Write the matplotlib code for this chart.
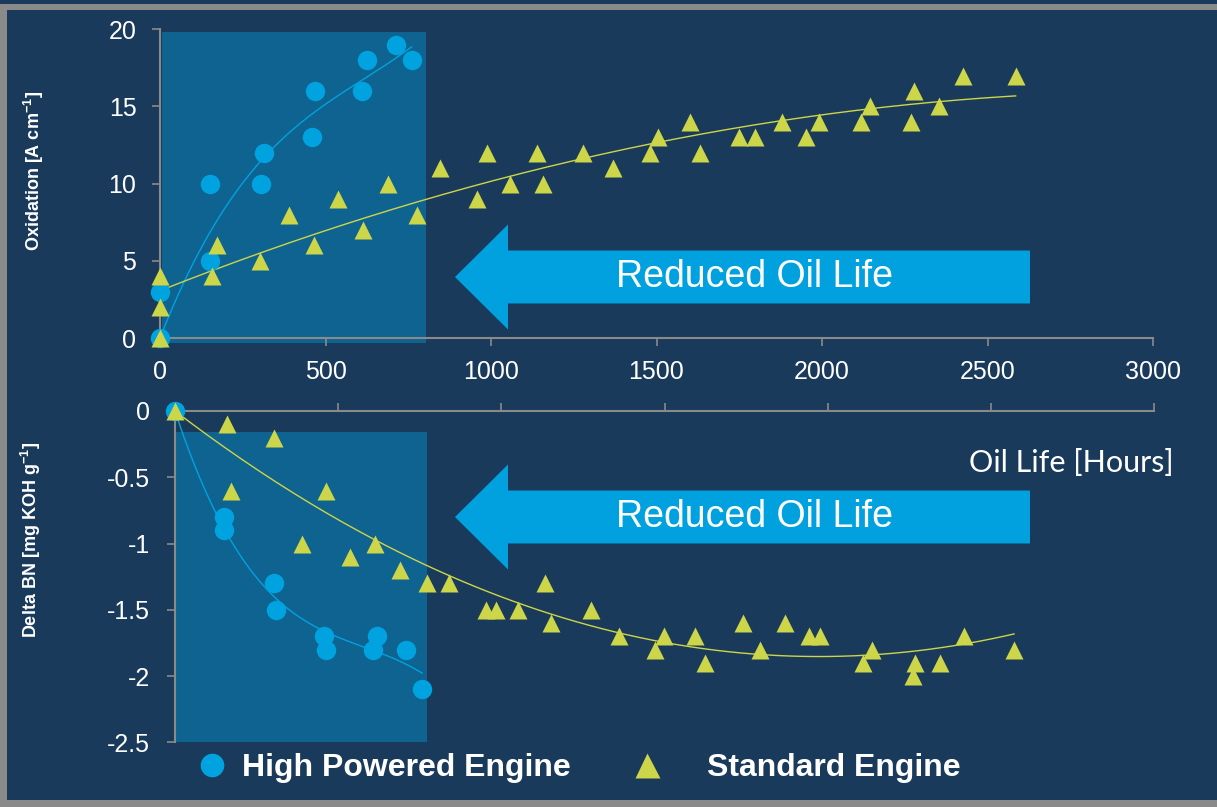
"""
Oxidation and Delta BN vs oil life, high powered vs standard engine
"""
import numpy as np
import matplotlib.pyplot as plt
from matplotlib.patches import Rectangle, FancyArrow
from matplotlib.lines import Line2D

# Oxidation data
hp_ox_x = [0, 0, 150, 150, 305, 313, 460, 467, 611, 624, 714, 760]
hp_ox_y = [0, 3, 10, 5, 10, 12, 13, 16, 16, 18, 19, 18]

std_ox_x = [0, 0, 0, 158, 173, 303, 390, 465, 538, 614, 690, 776, 846, 958, 988,
            1056, 1138, 1156, 1279, 1369, 1479, 1505, 1602, 1632, 1749, 1799, 1880,
            1952, 1990, 2118, 2144, 2270, 2279, 2354, 2427, 2585]
std_ox_y = [4, 2, 0, 4, 6, 5, 8, 6, 9, 7, 10, 8, 11, 9, 12,
            10, 12, 10, 12, 11, 12, 13, 14, 12, 13, 13, 14,
            13, 14, 14, 15, 14, 16, 15, 17, 17]

# Delta BN data
hp_bn_x = [0, 151, 151, 303, 309, 457, 462, 607, 620, 709, 757]
hp_bn_y = [0, -0.8, -0.9, -1.3, -1.5, -1.7, -1.8, -1.8, -1.7, -1.8, -2.1]

std_bn_x = [0, 158, 171, 303, 389, 462, 535, 613, 689, 773, 839, 953, 983, 1051,
            1133, 1151, 1274, 1362, 1471, 1497, 1594, 1625, 1740, 1792, 1870, 1942,
            1978, 2109, 2135, 2260, 2269, 2344, 2417, 2571]
std_bn_y = [0, -0.1, -0.6, -0.2, -1.0, -0.6, -1.1, -1.0, -1.2, -1.3, -1.3, -1.5, -1.5, -1.5,
            -1.3, -1.6, -1.5, -1.7, -1.8, -1.7, -1.7, -1.9, -1.6, -1.8, -1.6, -1.7,
            -1.7, -1.9, -1.8, -2.0, -1.9, -1.9, -1.7, -1.8]

x_ticks = [0, 500, 1000, 1500, 2000, 2500, 3000]
ox_ticks = [0, 5, 10, 15, 20]
bn_ticks = [0, -0.5, -1, -1.5, -2, -2.5]

bg = '#1a3a5c'
shade = '#0f6391'
blue = '#00a2df'
yellow = '#cdd548'
grey = '#8a8a8a'

plt.rcParams['font.family'] = ['Liberation Sans', 'DejaVu Sans']
plt.rcParams['mathtext.fontset'] = 'custom'
plt.rcParams['mathtext.bf'] = 'Liberation Sans:bold'
plt.rcParams['mathtext.rm'] = 'Liberation Sans'

W, H = 1217, 807
fig = plt.figure(figsize=(W / 100, H / 100), dpi=100, facecolor=bg)


def fx(px):
    return px / W


def fy(py):
    return 1 - py / H


# frame
for (x0, y0, x1, y1) in [(0, 4, 1217, 10), (0, 4, 7, 807), (0, 800, 1217, 807)]:
    fig.add_artist(Rectangle((fx(x0), fy(y1)), fx(x1) - fx(x0), fy(y0) - fy(y1),
                             transform=fig.transFigure, color=grey, lw=0, zorder=0))

ax1 = fig.add_axes([fx(160), fy(338), fx(1153) - fx(160), fy(29.3) - fy(338)])
ax2 = fig.add_axes([fx(175), fy(742.3), fx(1154) - fx(175), fy(411) - fy(742.3)])

for ax in (ax1, ax2):
    ax.set_facecolor('none')
    for s in ax.spines.values():
        s.set_color(grey)
        s.set_linewidth(1.5)
    ax.set_xlim(0, 3000)
    ax.set_xticks(x_ticks)
    ax.tick_params(colors=grey, labelcolor='white', labelsize=18, length=6, width=1.2)


def trend(ax, x, y, deg, color, zero=False):
    # polynomial trendline, optionally through the origin
    x = np.asarray(x, float)
    y = np.asarray(y, float)
    start = 1 if zero else 0
    A = np.column_stack([x ** p for p in range(start, deg + 1)])
    coef = np.linalg.lstsq(A, y, rcond=None)[0]
    xs = np.linspace(x.min(), x.max(), 200)
    ys = np.column_stack([xs ** p for p in range(start, deg + 1)]) @ coef
    ax.plot(xs, ys, color=color, lw=1.0, zorder=3, clip_on=False)


# top panel
ax1.spines['top'].set_visible(False)
ax1.spines['right'].set_visible(False)
ax1.set_ylim(0, 20)
ax1.set_yticks(ox_ticks)
ax1.tick_params(axis='x', pad=10)
ax1.tick_params(axis='y', pad=11)
ax1.add_patch(Rectangle((5, -0.35), 800, 20.2, color=shade, lw=0, zorder=1, clip_on=False))
trend(ax1, hp_ox_x, hp_ox_y, 3, blue, zero=True)
trend(ax1, std_ox_x, std_ox_y, 2, yellow)
ax1.plot(hp_ox_x, hp_ox_y, 'o', color=blue, ms=14, mec='none', zorder=4, clip_on=False)
ax1.plot(std_ox_x, std_ox_y, '^', color=yellow, ms=13, mec='none', zorder=5, clip_on=False)

# bottom panel
ax2.spines['bottom'].set_visible(False)
ax2.spines['right'].set_visible(False)
ax2.xaxis.set_ticks_position('top')
ax2.tick_params(axis='x', labeltop=False, labelbottom=False)
ax2.tick_params(axis='y', pad=12)
ax2.set_ylim(-2.5, 0)
ax2.set_yticks(bn_ticks)
ax2.set_yticklabels(['0', '-0.5', '-1', '-1.5', '-2', '-2.5'])
ax2.add_patch(Rectangle((2, -2.5), 769, 2.345, color=shade, lw=0, zorder=1, clip_on=False))
trend(ax2, hp_bn_x, hp_bn_y, 3, blue, zero=True)
trend(ax2, std_bn_x, std_bn_y, 2, yellow, zero=True)
ax2.plot(hp_bn_x, hp_bn_y, 'o', color=blue, ms=14, mec='none', zorder=4, clip_on=False)
ax2.plot(std_bn_x, std_bn_y, '^', color=yellow, ms=13, mec='none', zorder=5, clip_on=False)

# axis labels
fig.text(fx(34), fy(171), r'Oxidation [A cm$^{\mathbf{-1}}$]', rotation=90,
         ha='center', va='center', color='white', fontsize=13, fontweight='bold')
fig.text(fx(31), fy(540), r'Delta BN [mg KOH g$^{\mathbf{-1}}$]', rotation=90,
         ha='center', va='center', color='white', fontsize=13, fontweight='bold')
fig.text(fx(1071), fy(463), 'Oil Life [Hours]', ha='center', va='center',
         color='white', fontsize=22, family='Lato')

# arrows
for cy in (277, 517):
    fig.add_artist(FancyArrow(fx(1030), fy(cy), fx(455) - fx(1030), 0,
                              width=53 / H, head_width=105 / H, head_length=53 / W,
                              length_includes_head=True, transform=fig.transFigure,
                              color='#00a1de', lw=0, zorder=6))
    fig.text(fx(754), fy(cy), 'Reduced Oil Life', ha='center', va='center',
             color='white', fontsize=27, zorder=7)

# legend
h1 = Line2D([], [], marker='o', ls='none', color=blue, ms=17, mec='none')
h2 = Line2D([], [], marker='^', ls='none', color=yellow, ms=18, mec='none')
leg1 = fig.legend([h1], ['High Powered Engine'], loc='center left',
                  bbox_to_anchor=(fx(196), fy(768)), frameon=False, handlelength=1,
                  handletextpad=0.44, borderpad=0, borderaxespad=0,
                  prop={'weight': 'bold', 'size': 23}, labelcolor='white')
leg2 = fig.legend([h2], ['Standard Engine'], loc='center left',
                  bbox_to_anchor=(fx(631), fy(768)), frameon=False, handlelength=1,
                  handletextpad=1.375, borderpad=0, borderaxespad=0,
                  prop={'weight': 'bold', 'size': 23}, labelcolor='white')

plt.savefig('out.png', dpi=100, facecolor=bg)
